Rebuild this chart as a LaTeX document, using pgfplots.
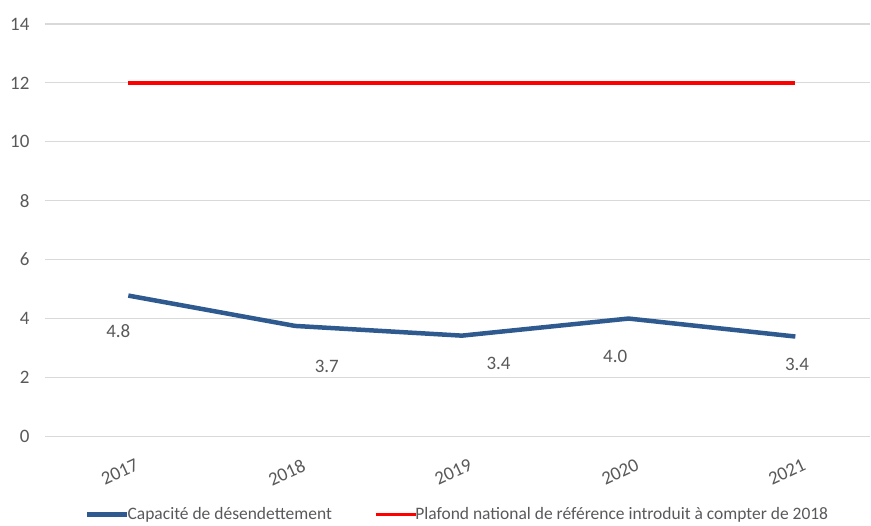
\documentclass[border=0pt]{standalone}
\usepackage{fontspec}
\setmainfont{Carlito}
\usepackage{pgfplots}
\pgfplotsset{compat=1.18}
\definecolor{blueline}{HTML}{2E5A8F}
\definecolor{gridc}{HTML}{D9D9D9}
\definecolor{txt}{HTML}{595959}
\begin{document}
\begin{tikzpicture}
\begin{axis}[
  scale only axis,
  width=826.6pt, height=413pt,
  xmin=-0.5, xmax=4.45,
  ymin=0, ymax=14,
  ytick={0,2,...,14},
  xtick={0,1,2,3,4},
  xticklabels={2017,2018,2019,2020,2021},
  x tick label style={rotate=25, anchor=north east, xshift=0pt, yshift=-19pt, font=\fontsize{19}{21}\selectfont, text=txt},
  y tick label style={font=\fontsize{19}{21}\selectfont, text=txt, xshift=-12pt},
  /pgf/number format/assume math mode=true,
  ymajorgrids,
  grid style={gridc, line width=1.2pt},
  axis line style={draw=none},
  major tick length=0pt,
  clip=false,
  legend style={at={(0.5,0)}, anchor=center, yshift=-78pt, draw=none, fill=none,
    legend columns=2, font=\fontsize{17.5}{19}\selectfont, text=txt,
    /tikz/every even column/.append style={column sep=40pt}},
  legend cell align=left,
  legend image code/.code={\draw[#1] (0pt,0pt) -- (40pt,0pt);},
]
\addplot[blueline, line width=4.5pt, line join=round] coordinates {(0,4.78) (1,3.75) (2,3.42) (3,4.0) (4,3.39)};
\addlegendentry{\hspace{-4pt}Capacité de désendettement}
\addplot[red, line width=3.5pt] coordinates {(0,12) (1,12) (2,12) (3,12) (4,12)};
\addlegendentry{\hspace{-4pt}Plafond national de référence introduit à compter de 2018}
\node[text=txt, font=\fontsize{19}{21}\selectfont] at (axis cs:-0.06,3.59) {4.8};
\node[text=txt, font=\fontsize{19}{21}\selectfont] at (axis cs:1.19,2.37) {3.7};
\node[text=txt, font=\fontsize{19}{21}\selectfont] at (axis cs:2.22,2.47) {3.4};
\node[text=txt, font=\fontsize{19}{21}\selectfont] at (axis cs:2.92,2.71) {4.0};
\node[text=txt, font=\fontsize{19}{21}\selectfont] at (axis cs:4.01,2.44) {3.4};
\path (rel axis cs:0,1) ++(-45pt,24pt) coordinate (tl);
\path (rel axis cs:1,0) ++(0pt,-86pt) coordinate (br);
\end{axis}
\useasboundingbox (tl) rectangle (br);
\end{tikzpicture}
\end{document}
